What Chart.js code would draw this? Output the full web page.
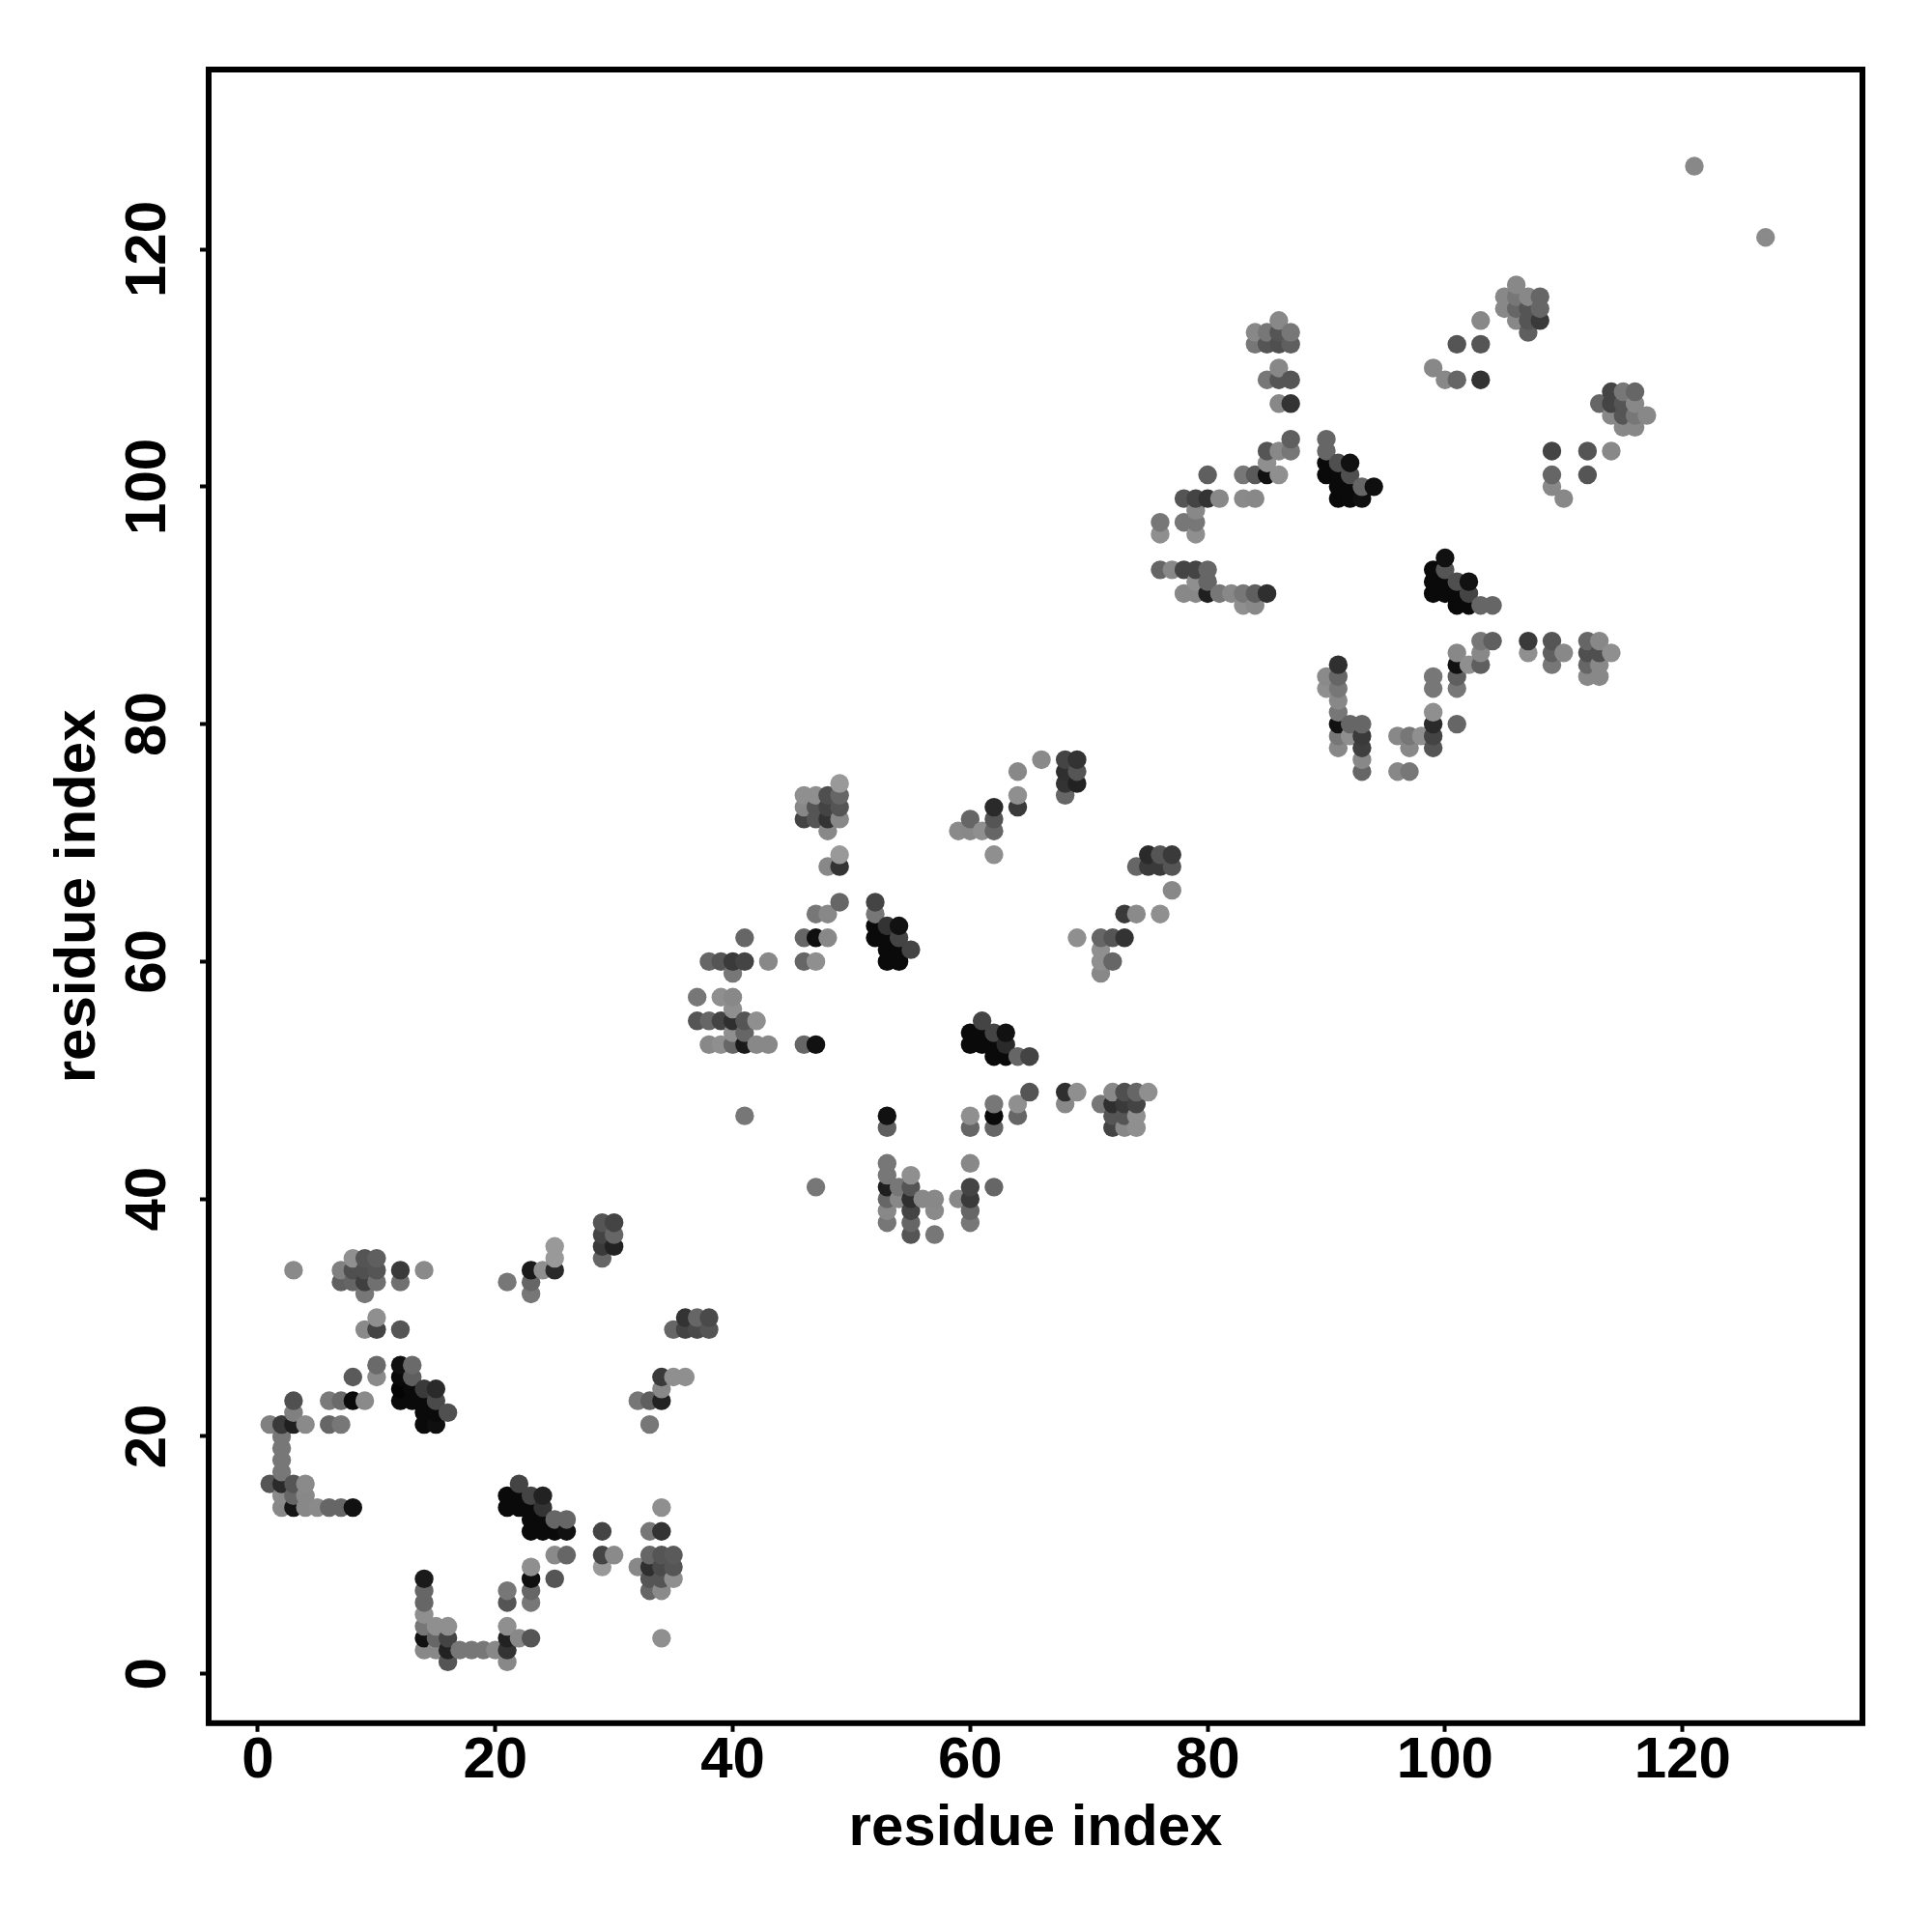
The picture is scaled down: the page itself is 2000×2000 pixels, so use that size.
<!DOCTYPE html>
<html><head><meta charset="utf-8">
<style>html,body{margin:0;padding:0;background:#fff}#c{display:block;width:2000px;height:2000px}</style>
<script src="https://cdn.jsdelivr.net/npm/chart.js@4/dist/chart.umd.min.js"></script>
</head><body><canvas id="c" width="2000" height="2000"></canvas>
<script>
const xTitle = "residue index";
const yTitle = "residue index";
const tickValues = [0,20,40,60,80,100,120];
const rowJ = [1,2,3,4,5,6,7,8,9,10,12,13,14,15,16,17,18,19,20,21,22,23,24,25,26,29,30,32,33,34,35,36,37,38,39,40,41,42,43,46,47,48,49,52,53,54,55,56,57,59,60,61,62,63,64,65,66,68,69,71,72,73,74,75,76,77,78,79,80,81,82,83,84,85,86,87,90,91,92,93,94,96,97,98,99,100,101,102,103,104,105,106,107,108,109,110,112,113,114,115,116,117,121,127];
const rowI = [
[16,21],[14,15,16,17,18,19,20,21],[14,15,16,21,22,23,34],[14,15,16,21],[14],[14,21,23],[14,21,23,33,34],[14,23,25,33,34,35],[23,29,32,33,34,35],[25,26,29,30,33,34,35],
[23,24,25,26,29,33,34],[23,24,25,26],[2,3,4,5,6,7,8,21,22,23,24,34],[2,3,4,21,22,23,24],[1,2,3,4,22],[2],[2],[2],[2],
[1,2,3,4,6,7,14,15,33],[3,14,15,16],[3,6,7,8,9,12,13,14,15,32,33,34],[12,13,14,15,34],[8,10,12,13,34,35,36],[10,12,13],
[9,10,12,35,36,37,38],[10,36,37,38],[9,23],[7,8,9,10,12,21,23],[3,7,8,9,10,12,14,23,24,25],[8,9,10,25,29],[25,29,30],[29,30,55,57],[29,30,53,55,60],
[53,55,57,60],[53,54,55,56,57,59,60],[47,53,54,55,60,62],[53,55],[53,60],[53,60,62,72,73,74],[41,53,60,62,64,72,73,74],[62,64,68,71,72,73,74],[65,68,69,72,73,74,75],
[62,63,64,65],[38,39,40,41,42,43,46,47,60,61,62,63],[40,41,60,61,62,63],[37,38,39,40,41,42,61],[40],[37,39,40],[40,71],
[38,39,40,41,43,46,47,53,54,71,72],[53,54,55,71],[41,46,47,48,52,53,54,69,71,72,73],[52,53,54],[47,48,52,73,74,76],[49,52],[77],
[48,49,74,75,76,77],[49,62,75,76,77],[48,59,60,61,62],[46,47,48,49,60,62],[46,47,48,49,62,64],[46,47,48,49,64,68],[49,68,69],[64,68,69,93,96,97],[66,68,69,93],
[91,93,97,99],[91,92,93,96,97,98,99],[91,92,93,99,101],[91,99],[91],[90,91,99,101],[90,91,99,101,112,113],[91,101,102,103,109,112,113],[101,103,107,109,110,112,113,114],[103,104,107,109,112,113],
[83,84,101,102,103,104],[78,79,80,81,82,83,84,85,99,100,101,102],[79,80,99,100,101,102],[76,77,78,79,80,99,100],[100],[76,79],[76,78,79],[79],
[78,79,80,81,83,84,91,92,93,110],[91,92,93,94,109],[80,83,84,85,86,90,91,92,109,112],[85,90,91,92],[85,86,87,90,109,112,114],[87,90],[115,116],[114,115,116,117],[86,87,113,114,115,116],[114,115,116],
[85,86,87,100,101,103],[86,99],[84,85,86,87,101,103],[84,85,86,87,107],[86,103,106,107,108],[105,106,107,108],[105,106,107,108],[106],[127],[121]
];
const rowLevel = [
[85,136],[136,136,34,119,119,119,136,51],[17,102,68,34,136,85,143],[119,143,143,143],[143],[102,85,119],[102,119,102,102,138],[26,15,85,85,85,143],[143,153,136,47,74,85],[138,102,68,138,102,85,90],
[10,10,10,17,68,119,51],[10,10,102,102],[136,21,136,138,102,102,17,10,10,10,51,143],[138,102,136,10,10,68,34],[85,42,85,138,68],[119],[119],[119],[119],
[128,58,31,138,102,119,10,15,119],[128,10,10,80],[80,122,106,10,138,10,10,10,74,119,95,34],[5,10,58,42,136],[90,138,10,95,58,143,143],[106,16,106],
[138,68,85,102,68,74,85],[143,51,102,74],[119,119],[96,101,63,112,112,119,102],[138,128,79,80,85,58,138,26,143,42],[144,85,95,153,102],[153,58,34],[68,102,85,119],[85,68,119,102,119],
[136,68,138,102],[102,136,47,136,136,136,58],[119,31,119,85,68,102],[119,143],[119,136],[95,102,102,68,136,143],[119,17,143,10,102,85,85,143],[119,143,136,119,47,58,68],[85,47,143,136,79,102,143],
[10,10,102,68],[136,143,102,26,136,136,102,17,10,10,10,42],[143,102,10,10,68,17],[85,102,68,47,85,143,68],[143],[119,143,136],[119,136],
[102,85,58,68,136,102,143,10,10,143,102],[10,10,68,143],[102,102,15,136,10,10,68,143,102,85,51],[10,51,17],[119,136,119,58,138,143],[102,68],[136],
[136,51,102,58,58,85],[153,143,42,85,58],[136,138,136,143,102],[68,85,51,136,102,85],[136,85,68,85,42,58],[143,143,79,102,143,102],[153,51,34],[136,47,85,102,136,119],[138,68,51,136],
[136,63,136,85],[119,143,58,136,119,143,68],[17,102,102,42,102],[119,143],[136],[143,119,119,119],[138,102,119,95,136,136],[47,17,143,95,119,102,136],[136,136,143,95,136,79,79,143],[119,95,58,85,102,136],
[143,136,10,10,102,102],[136,136,31,119,136,119,95,47,10,10,10,68],[143,102,10,10,79,17],[102,136,68,68,102,10,85],[17],[143,143],[119,119,119],[136],
[85,68,51,136,138,136,10,10,15,136],[10,10,102,15,136],[95,119,90,17,143,10,10,79,102,85],[143,10,79,17],[85,136,119,102,68,85,136],[95,102],[136,136],[136,85,119,136],[136,51,102,68,85,136],[68,119,102],
[119,85,85,136,102,51],[136,136],[119,85,79,95,85,85],[136,119,85,119,95],[136,136,136,85,58],[136,102,85,102],[136,119,136,102],[136],[138],[136]
];
const contacts = [];
rowJ.forEach((j, r) => rowI[r].forEach((i, k) => contacts.push({x: i, y: j, level: rowLevel[r][k]})));
contacts.sort((a, b) => a.x - b.x || a.y - b.y);

const plotBox = {
  id: 'plotBox',
  afterDatasetsDraw(chart) {
    const {ctx, chartArea: a} = chart;
    ctx.save();
    ctx.strokeStyle = '#000';
    ctx.lineWidth = 6;
    ctx.lineJoin = 'miter';
    ctx.strokeRect(a.left, a.top, a.right - a.left, a.bottom - a.top);
    ctx.restore();
  }
};
const font = {family: '"Liberation Sans", Arial, sans-serif', weight: 'bold', size: 60};
const axisCommon = {
  type: 'linear',
  grid: {drawOnChartArea: false, drawTicks: true, tickLength: 9, tickColor: '#000', tickWidth: 4},
  border: {display: false},
};
const tickFilter = {afterBuildTicks(s) { s.ticks = tickValues.map(v => ({value: v})); }};
new Chart(document.getElementById('c'), {
  type: 'scatter',
  data: {datasets: [{
    data: contacts.map(c => ({x: c.x, y: c.y})),
    pointRadius: 9.7,
    pointHoverRadius: 9.7,
    pointBorderWidth: 0,
    pointBackgroundColor: contacts.map(c => `rgb(${c.level},${c.level},${c.level})`),
    showLine: false
  }]},
  options: {
    responsive: false, animation: false, devicePixelRatio: 1,
    layout: {padding: {top: 72, right: 72, left: 0, bottom: 0}},
    plugins: {legend: {display: false}, tooltip: {enabled: false}},
    scales: {
      x: {...axisCommon, ...tickFilter, min: -4.15, max: 135.16,
        afterFit(s) { s.height = 216.2; },
        ticks: {color: '#000', font, padding: -5, minRotation: 0, maxRotation: 0, autoSkip: false, includeBounds: false},
        title: {display: true, text: xTitle, color: '#000', font, padding: {top: 0, bottom: 71}}},
      y: {...axisCommon, ...tickFilter, min: -4.158, max: 135.14,
        afterFit(s) { s.width = 216; },
        ticks: {color: '#000', font, padding: 2, crossAlign: 'center', minRotation: 90, maxRotation: 90, autoSkip: false, includeBounds: false},
        title: {display: true, text: yTitle, color: '#000', font, padding: {top: 45, bottom: 0}}}
    }
  },
  plugins: [plotBox]
});
</script></body></html>
